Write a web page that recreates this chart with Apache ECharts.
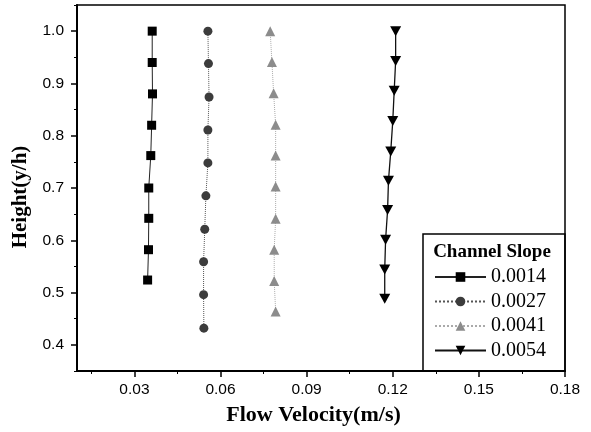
<!DOCTYPE html>
<html><head><meta charset="utf-8">
<script src="https://cdn.jsdelivr.net/npm/echarts@6/dist/echarts.min.js"></script>
<style>html,body{margin:0;padding:0;background:#fff}#c{width:591px;height:432px}</style>
</head><body><div id="c"></div>
<script>
const seriesNames = ['0.0014', '0.0027', '0.0041', '0.0054'];
const s1X = [0.0362, 0.0362, 0.0363, 0.0360, 0.0357, 0.0350, 0.0350, 0.0349, 0.0346];
const s1Y = [1.0, 0.94, 0.88, 0.82, 0.762, 0.70, 0.642, 0.582, 0.524];
const s2X = [0.0556, 0.0558, 0.0560, 0.0556, 0.0556, 0.0549, 0.0545, 0.0541, 0.0541, 0.0542];
const s2Y = [1.0, 0.938, 0.874, 0.811, 0.748, 0.685, 0.621, 0.559, 0.496, 0.432];
const s3X = [0.0773, 0.0779, 0.0785, 0.0792, 0.0792, 0.0792, 0.0792, 0.0787, 0.0787, 0.0792];
const s3Y = [1.0, 0.941, 0.881, 0.821, 0.762, 0.703, 0.641, 0.582, 0.522, 0.464];
const s4X = [0.1210, 0.1210, 0.1205, 0.1200, 0.1193, 0.1185, 0.1182, 0.1175, 0.1172, 0.1172];
const s4Y = [1.0, 0.943, 0.886, 0.828, 0.770, 0.714, 0.658, 0.601, 0.544, 0.488];
const xTicks = [0.03, 0.06, 0.09, 0.12, 0.15, 0.18];
const xMinorTicks = [0.015, 0.045, 0.075, 0.105, 0.135, 0.165];
const yTicks = [0.4, 0.5, 0.6, 0.7, 0.8, 0.9, 1.0];
const yMinorTicks = [0.35, 0.45, 0.55, 0.65, 0.75, 0.85, 0.95, 1.05];

const zip = (xs, ys) => xs.map((x, i) => [x, ys[i]]);
const chart = echarts.init(document.getElementById('c'));
const sans = 'Liberation Sans', serif = 'Liberation Serif';
const xRange = {min: 0.01, max: 0.18}, yRange = {min: 0.35, max: 1.05};
chart.setOption({
  animation: false,
  grid: {left: 77, right: 26, top: 5, bottom: 61, show: true, borderColor: '#000', borderWidth: 1.5, backgroundColor: 'transparent'},
  xAxis: [{
    type: 'value', ...xRange, position: 'bottom',
    name: 'Flow Velocity(m/s)', nameLocation: 'middle', nameGap: 33,
    nameTextStyle: {fontFamily: serif, fontWeight: 'bold', fontSize: 22, color: '#000', padding: [0, 15, 0, 0]},
    axisLine: {show: true, onZero: false, lineStyle: {color: '#000', width: 2}},
    axisTick: {show: true, inside: false, length: 6, customValues: xTicks, lineStyle: {color: '#000', width: 1.5}},
    axisLabel: {customValues: xTicks, fontFamily: sans, fontSize: 15.5, color: '#000', margin: 11,
      formatter: v => v.toFixed(2)},
    splitLine: {show: false}
  }, {
    type: 'value', ...xRange, position: 'bottom',
    axisLine: {show: false},
    axisTick: {show: true, inside: false, length: 3, customValues: xMinorTicks, lineStyle: {color: '#000', width: 1}},
    axisLabel: {show: false}, splitLine: {show: false}
  }],
  yAxis: [{
    type: 'value', ...yRange, position: 'left',
    name: 'Height(y/h)', nameLocation: 'middle', nameGap: 45,
    nameTextStyle: {fontFamily: serif, fontWeight: 'bold', fontSize: 21, color: '#000', padding: [0, 18, 0, 0]},
    axisLine: {show: true, onZero: false, lineStyle: {color: '#000', width: 2}},
    axisTick: {show: true, inside: false, length: 6, customValues: yTicks, lineStyle: {color: '#000', width: 1.5}},
    axisLabel: {customValues: yTicks, fontFamily: sans, fontSize: 15.5, color: '#000', margin: 13,
      formatter: v => v.toFixed(1)},
    splitLine: {show: false}
  }, {
    type: 'value', ...yRange, position: 'left',
    axisLine: {show: false},
    axisTick: {show: true, inside: false, length: 3, customValues: yMinorTicks, lineStyle: {color: '#000', width: 1}},
    axisLabel: {show: false}, splitLine: {show: false}
  }],
  legend: {
    orient: 'vertical', left: 434, top: 267, itemGap: 4.5, itemWidth: 51, itemHeight: 12,
    data: seriesNames,
    textStyle: {fontFamily: serif, fontSize: 20, color: '#000', lineHeight: 20},
    padding: 0
  },
  graphic: [
    {type: 'rect', shape: {x: 423, y: 234, width: 142, height: 137}, style: {fill: 'none', stroke: '#000', lineWidth: 1.5}, z: 10},
    {type: 'text', x: 492, y: 252, style: {text: 'Channel Slope', fontFamily: serif, fontWeight: 'bold', fontSize: 19, fill: '#000', align: 'center', verticalAlign: 'middle'}, z: 10}
  ],
  series: [
    {name: seriesNames[0], type: 'line', data: zip(s1X, s1Y), symbol: 'rect', symbolSize: 9,
      itemStyle: {color: '#000'}, lineStyle: {color: '#222', width: 1, type: 'solid'}},
    {name: seriesNames[1], type: 'line', data: zip(s2X, s2Y), symbol: 'circle', symbolSize: 9,
      itemStyle: {color: '#3c3c3c'}, lineStyle: {color: '#555', width: 1, type: 'dotted'}},
    {name: seriesNames[2], type: 'line', data: zip(s3X, s3Y), symbol: 'triangle', symbolSize: 10,
      itemStyle: {color: '#8c8c8c'}, lineStyle: {color: '#aaa', width: 1, type: 'dotted'}},
    {name: seriesNames[3], type: 'line', data: zip(s4X, s4Y), symbol: 'path://M0,0 L10,0 L5,9 Z', symbolSize: [11, 10],
      itemStyle: {color: '#000'}, lineStyle: {color: '#111', width: 1.3, type: 'solid'}}
  ]
});
</script></body></html>
